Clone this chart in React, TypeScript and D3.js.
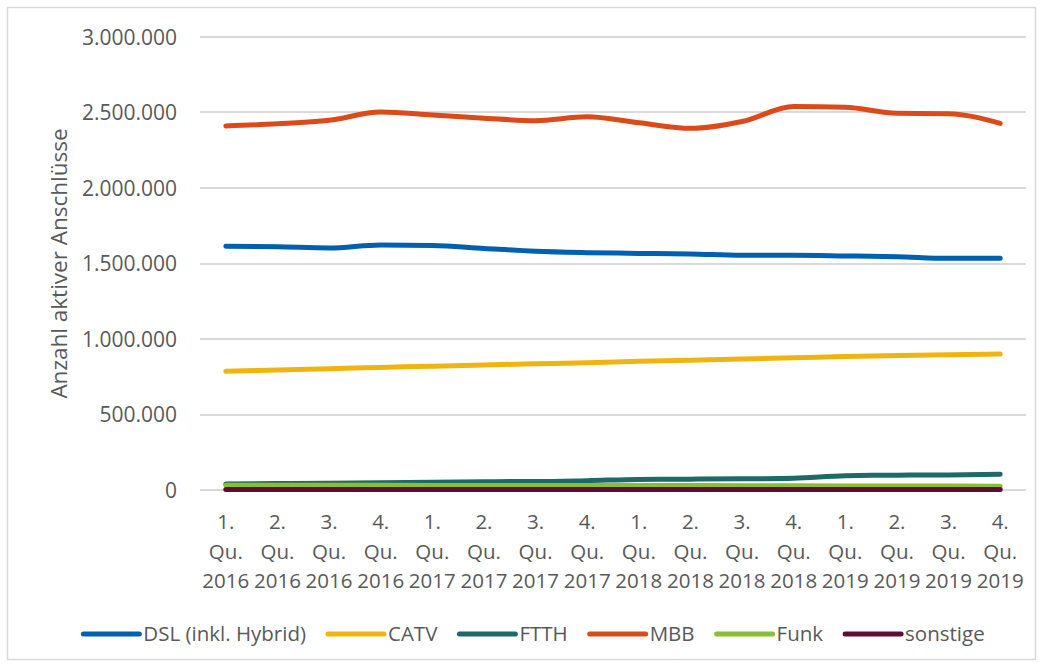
import React, { useEffect, useRef } from 'react';
import * as d3 from 'd3';

const quarters = [
  '1. Qu. 2016', '2. Qu. 2016', '3. Qu. 2016', '4. Qu. 2016',
  '1. Qu. 2017', '2. Qu. 2017', '3. Qu. 2017', '4. Qu. 2017',
  '1. Qu. 2018', '2. Qu. 2018', '3. Qu. 2018', '4. Qu. 2018',
  '1. Qu. 2019', '2. Qu. 2019', '3. Qu. 2019', '4. Qu. 2019',
];

const dsl = [1614000, 1611000, 1603000, 1623000, 1620000, 1600000, 1581000, 1572000, 1567000, 1563000, 1554000, 1554000, 1550000, 1545000, 1534000, 1534000];
const catv = [786000, 795000, 803000, 812000, 820000, 828000, 836000, 843000, 853000, 860000, 868000, 876000, 884000, 890000, 895000, 900000];
const ftth = [40000, 43000, 45000, 48000, 52000, 55000, 56000, 62000, 70000, 72000, 74000, 78000, 95000, 98000, 100000, 104000];
const mbb = [2411000, 2425000, 2448000, 2503000, 2483000, 2462000, 2446000, 2472000, 2432000, 2395000, 2440000, 2540000, 2535000, 2495000, 2492000, 2428000];
const funk = [31000, 31000, 31000, 31000, 30000, 30000, 30000, 30000, 29000, 29000, 28000, 28000, 27000, 27000, 26000, 25000];
const sonstige = [3000, 3000, 3000, 3000, 3000, 3000, 3000, 3000, 3000, 3000, 3000, 3000, 3000, 3000, 3000, 3000];

const yTicks = [0, 500000, 1000000, 1500000, 2000000, 2500000, 3000000];

const series = [
  { name: 'DSL (inkl. Hybrid)', values: dsl, color: '#0060B0' },
  { name: 'CATV', values: catv, color: '#F0B411' },
  { name: 'FTTH', values: ftth, color: '#1E6A66' },
  { name: 'MBB', values: mbb, color: '#DC4A1A' },
  { name: 'Funk', values: funk, color: '#8CBE2F' },
  { name: 'sonstige', values: sonstige, color: '#5E0C35' },
];

const W = 1043;
const H = 666;
const FONT = '"Open Sans", "Noto Sans", sans-serif';
const TEXT = '#595959';

export default function App() {
  const ref = useRef<SVGSVGElement>(null);

  useEffect(() => {
    document.body.style.margin = '0';
    const svg = d3.select(ref.current);
    svg.selectAll('*').remove();

    const margin = { left: 200, right: 17, top: 37, bottom: 176 };
    const x = d3.scaleBand().domain(quarters).range([margin.left, W - margin.right]);
    const y = d3.scaleLinear().domain([0, 3000000]).range([H - margin.bottom, margin.top]);
    const fmt = (v: number) => d3.format(',')(v).replace(/,/g, '.');

    svg.append('rect')
      .attr('x', 7.5).attr('y', 7.5)
      .attr('width', W - 15).attr('height', H - 14)
      .attr('fill', 'white').attr('stroke', '#D9D9D9').attr('stroke-width', 1.5);

    // grid + y labels
    svg.append('g').selectAll('line').data(yTicks).join('line')
      .attr('x1', margin.left).attr('x2', W - margin.right)
      .attr('y1', d => Math.round(y(d))).attr('y2', d => Math.round(y(d)))
      .attr('stroke', '#D9D9D9').attr('stroke-width', 2);

    svg.append('g').selectAll('text').data(yTicks).join('text')
      .attr('x', 177).attr('y', d => y(d))
      .attr('dy', '0.36em')
      .attr('text-anchor', 'end')
      .attr('font-family', FONT).attr('font-size', 21).attr('fill', TEXT)
      .text(d => fmt(d));

    svg.append('text')
      .attr('transform', `translate(67,${(y(0) + y(3000000)) / 2}) rotate(-90)`)
      .attr('text-anchor', 'middle')
      .attr('font-family', FONT).attr('font-size', 22.5).attr('fill', TEXT)
      .text('Anzahl aktiver Anschlüsse');

    // x labels
    const xl = svg.append('g').selectAll('text').data(quarters).join('text')
      .attr('text-anchor', 'middle')
      .attr('font-family', FONT).attr('font-size', 20.5).attr('fill', TEXT);
    xl.each(function (d) {
      const parts = d.split(' ');
      const cx = (x(d) as number) + x.bandwidth() / 2;
      parts.forEach((l, i) => {
        d3.select(this).append('tspan')
          .attr('x', cx).attr('y', 529 + i * 29.5)
          .text(l);
      });
    });

    const line = d3.line<number>()
      .x((_, i) => (x(quarters[i]) as number) + x.bandwidth() / 2)
      .y(d => y(d))
      .curve(d3.curveMonotoneX);

    svg.append('g').selectAll('path').data(series).join('path')
      .attr('d', d => line(d.values))
      .attr('fill', 'none')
      .attr('stroke', d => d.color)
      .attr('stroke-width', 5)
      .attr('stroke-linecap', 'round')
      .attr('stroke-linejoin', 'round');

    // legend
    const lg = svg.append('g');
    let cx = 0;
    const ly = 634;
    const gap = 22;
    series.forEach(s => {
      const g = lg.append('g');
      g.append('line')
        .attr('x1', cx).attr('x2', cx + 56)
        .attr('y1', ly).attr('y2', ly)
        .attr('stroke', s.color).attr('stroke-width', 5).attr('stroke-linecap', 'round');
      const t = g.append('text')
        .attr('x', cx + 60).attr('y', ly).attr('dy', '0.36em')
        .attr('font-family', FONT).attr('font-size', 20.5).attr('fill', TEXT)
        .text(s.name);
      const tw = (t.node() as SVGTextElement).getComputedTextLength();
      cx += 60 + tw + gap;
    });
    const total = cx - gap;
    lg.attr('transform', `translate(${534 - total / 2},0)`);
  }, []);

  return <svg ref={ref} width={W} height={H} style={{ display: 'block' }} />;
}
